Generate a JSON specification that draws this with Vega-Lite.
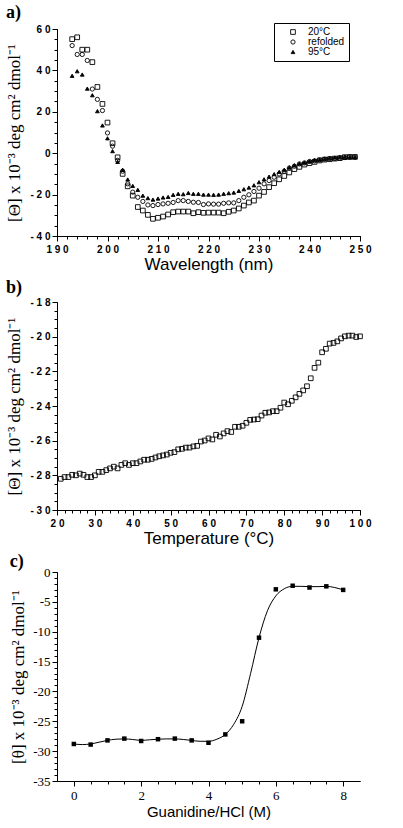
{
  "$schema": "https://vega.github.io/schema/vega-lite/v6.json",
  "padding": {"left": 5, "top": 4, "right": 5, "bottom": 2},
  "background": "white",
  "spacing": 7,
  "config": {
    "view": {"stroke": null},
    "axis": {"grid": false, "domainColor": "black", "tickColor": "black", "labelColor": "black", "titleColor": "black", "labelFlush": false, "labelOverlap": false, "domainWidth": 1, "tickWidth": 1},
    "title": {"color": "black"}
  },
  "datasets": {
    "a": [
      {"wl":193,"v":55.1,"s":"20°C"},{"wl":194,"v":56,"s":"20°C"},{"wl":195,"v":50,"s":"20°C"},{"wl":196,"v":50,"s":"20°C"},{"wl":197,"v":44,"s":"20°C"},{"wl":198,"v":32,"s":"20°C"},{"wl":199,"v":23.8,"s":"20°C"},{"wl":200,"v":14.8,"s":"20°C"},{"wl":201,"v":4.8,"s":"20°C"},{"wl":202,"v":-2,"s":"20°C"},{"wl":203,"v":-10,"s":"20°C"},{"wl":204,"v":-16,"s":"20°C"},{"wl":205,"v":-20.5,"s":"20°C"},{"wl":206,"v":-26,"s":"20°C"},{"wl":207,"v":-27.7,"s":"20°C"},{"wl":208,"v":-29.8,"s":"20°C"},{"wl":209,"v":-31.7,"s":"20°C"},{"wl":210,"v":-31.2,"s":"20°C"},{"wl":211,"v":-30.6,"s":"20°C"},{"wl":212,"v":-29.6,"s":"20°C"},{"wl":213,"v":-28.5,"s":"20°C"},{"wl":214,"v":-28.2,"s":"20°C"},{"wl":215,"v":-28.2,"s":"20°C"},{"wl":216,"v":-28.2,"s":"20°C"},{"wl":217,"v":-29,"s":"20°C"},{"wl":218,"v":-28.5,"s":"20°C"},{"wl":219,"v":-28.8,"s":"20°C"},{"wl":220,"v":-28.7,"s":"20°C"},{"wl":221,"v":-28.7,"s":"20°C"},{"wl":222,"v":-28.7,"s":"20°C"},{"wl":223,"v":-29,"s":"20°C"},{"wl":224,"v":-28.3,"s":"20°C"},{"wl":225,"v":-27.7,"s":"20°C"},{"wl":226,"v":-26.7,"s":"20°C"},{"wl":227,"v":-25.3,"s":"20°C"},{"wl":228,"v":-23.8,"s":"20°C"},{"wl":229,"v":-22.9,"s":"20°C"},{"wl":230,"v":-20.5,"s":"20°C"},{"wl":231,"v":-18.7,"s":"20°C"},{"wl":232,"v":-16.4,"s":"20°C"},{"wl":233,"v":-14.5,"s":"20°C"},{"wl":234,"v":-12.6,"s":"20°C"},{"wl":235,"v":-11,"s":"20°C"},{"wl":236,"v":-9.3,"s":"20°C"},{"wl":237,"v":-7.7,"s":"20°C"},{"wl":238,"v":-6.6,"s":"20°C"},{"wl":239,"v":-5.5,"s":"20°C"},{"wl":240,"v":-4.8,"s":"20°C"},{"wl":241,"v":-4.2,"s":"20°C"},{"wl":242,"v":-3.5,"s":"20°C"},{"wl":243,"v":-3.1,"s":"20°C"},{"wl":244,"v":-2.9,"s":"20°C"},{"wl":245,"v":-2.6,"s":"20°C"},{"wl":246,"v":-2.4,"s":"20°C"},{"wl":247,"v":-1.9,"s":"20°C"},{"wl":248,"v":-1.8,"s":"20°C"},{"wl":249,"v":-1.8,"s":"20°C"},
      {"wl":193,"v":52,"s":"refolded"},{"wl":194,"v":47.7,"s":"refolded"},{"wl":195,"v":47.7,"s":"refolded"},{"wl":196,"v":44.8,"s":"refolded"},{"wl":197,"v":31,"s":"refolded"},{"wl":198,"v":26,"s":"refolded"},{"wl":199,"v":20.6,"s":"refolded"},{"wl":200,"v":9.8,"s":"refolded"},{"wl":201,"v":3.4,"s":"refolded"},{"wl":202,"v":-3.5,"s":"refolded"},{"wl":203,"v":-8.7,"s":"refolded"},{"wl":204,"v":-14.8,"s":"refolded"},{"wl":205,"v":-18.8,"s":"refolded"},{"wl":206,"v":-21.3,"s":"refolded"},{"wl":207,"v":-23.3,"s":"refolded"},{"wl":208,"v":-25,"s":"refolded"},{"wl":209,"v":-25.3,"s":"refolded"},{"wl":210,"v":-24.8,"s":"refolded"},{"wl":211,"v":-24.5,"s":"refolded"},{"wl":212,"v":-24.2,"s":"refolded"},{"wl":213,"v":-23.8,"s":"refolded"},{"wl":214,"v":-22.9,"s":"refolded"},{"wl":215,"v":-22.9,"s":"refolded"},{"wl":216,"v":-23.3,"s":"refolded"},{"wl":217,"v":-23.7,"s":"refolded"},{"wl":218,"v":-23.8,"s":"refolded"},{"wl":219,"v":-24.8,"s":"refolded"},{"wl":220,"v":-24.5,"s":"refolded"},{"wl":221,"v":-24.6,"s":"refolded"},{"wl":222,"v":-24.6,"s":"refolded"},{"wl":223,"v":-24.2,"s":"refolded"},{"wl":224,"v":-24,"s":"refolded"},{"wl":225,"v":-24,"s":"refolded"},{"wl":226,"v":-22.9,"s":"refolded"},{"wl":227,"v":-21.3,"s":"refolded"},{"wl":228,"v":-20.1,"s":"refolded"},{"wl":229,"v":-18.5,"s":"refolded"},{"wl":230,"v":-16.9,"s":"refolded"},{"wl":231,"v":-14.8,"s":"refolded"},{"wl":232,"v":-13.2,"s":"refolded"},{"wl":233,"v":-11.6,"s":"refolded"},{"wl":234,"v":-10,"s":"refolded"},{"wl":235,"v":-8.7,"s":"refolded"},{"wl":236,"v":-7.2,"s":"refolded"},{"wl":237,"v":-6.3,"s":"refolded"},{"wl":238,"v":-5.2,"s":"refolded"},{"wl":239,"v":-4.7,"s":"refolded"},{"wl":240,"v":-4,"s":"refolded"},{"wl":241,"v":-3.7,"s":"refolded"},{"wl":242,"v":-3.2,"s":"refolded"},{"wl":243,"v":-2.9,"s":"refolded"},{"wl":244,"v":-2.6,"s":"refolded"},{"wl":245,"v":-2.6,"s":"refolded"},{"wl":246,"v":-2.3,"s":"refolded"},{"wl":247,"v":-2.1,"s":"refolded"},{"wl":248,"v":-1.9,"s":"refolded"},{"wl":249,"v":-1.9,"s":"refolded"},
      {"wl":193,"v":37.4,"s":"95°C"},{"wl":194,"v":39.6,"s":"95°C"},{"wl":195,"v":38,"s":"95°C"},{"wl":196,"v":31.2,"s":"95°C"},{"wl":197,"v":28,"s":"95°C"},{"wl":198,"v":20.3,"s":"95°C"},{"wl":199,"v":13.4,"s":"95°C"},{"wl":200,"v":7.2,"s":"95°C"},{"wl":201,"v":1,"s":"95°C"},{"wl":202,"v":-4.2,"s":"95°C"},{"wl":203,"v":-8,"s":"95°C"},{"wl":204,"v":-12.7,"s":"95°C"},{"wl":205,"v":-15.8,"s":"95°C"},{"wl":206,"v":-17.7,"s":"95°C"},{"wl":207,"v":-20.5,"s":"95°C"},{"wl":208,"v":-21.7,"s":"95°C"},{"wl":209,"v":-22.4,"s":"95°C"},{"wl":210,"v":-21.9,"s":"95°C"},{"wl":211,"v":-21.4,"s":"95°C"},{"wl":212,"v":-21.1,"s":"95°C"},{"wl":213,"v":-20.1,"s":"95°C"},{"wl":214,"v":-19.6,"s":"95°C"},{"wl":215,"v":-19.8,"s":"95°C"},{"wl":216,"v":-19.2,"s":"95°C"},{"wl":217,"v":-19.6,"s":"95°C"},{"wl":218,"v":-19.6,"s":"95°C"},{"wl":219,"v":-20,"s":"95°C"},{"wl":220,"v":-20,"s":"95°C"},{"wl":221,"v":-20.1,"s":"95°C"},{"wl":222,"v":-20,"s":"95°C"},{"wl":223,"v":-19.6,"s":"95°C"},{"wl":224,"v":-19.3,"s":"95°C"},{"wl":225,"v":-19,"s":"95°C"},{"wl":226,"v":-18.2,"s":"95°C"},{"wl":227,"v":-17.4,"s":"95°C"},{"wl":228,"v":-16.6,"s":"95°C"},{"wl":229,"v":-15.5,"s":"95°C"},{"wl":230,"v":-14,"s":"95°C"},{"wl":231,"v":-12.6,"s":"95°C"},{"wl":232,"v":-11.3,"s":"95°C"},{"wl":233,"v":-10.1,"s":"95°C"},{"wl":234,"v":-9,"s":"95°C"},{"wl":235,"v":-8,"s":"95°C"},{"wl":236,"v":-6.8,"s":"95°C"},{"wl":237,"v":-5.8,"s":"95°C"},{"wl":238,"v":-5,"s":"95°C"},{"wl":239,"v":-4.5,"s":"95°C"},{"wl":240,"v":-3.9,"s":"95°C"},{"wl":241,"v":-3.4,"s":"95°C"},{"wl":242,"v":-3.1,"s":"95°C"},{"wl":243,"v":-2.7,"s":"95°C"},{"wl":244,"v":-2.4,"s":"95°C"},{"wl":245,"v":-2.1,"s":"95°C"},{"wl":246,"v":-1.9,"s":"95°C"},{"wl":247,"v":-1.8,"s":"95°C"},{"wl":248,"v":-1.8,"s":"95°C"},{"wl":249,"v":-1.8,"s":"95°C"}
    ],
    "b": [
      {"t":21,"v":-28.2},{"t":22,"v":-28.1},{"t":23,"v":-28.1},{"t":24,"v":-27.97},{"t":25,"v":-28.0},{"t":26,"v":-27.9},{"t":27,"v":-27.97},{"t":28,"v":-28.1},{"t":29,"v":-28.1},{"t":30,"v":-28.0},
      {"t":31,"v":-27.8},{"t":32,"v":-27.8},{"t":33,"v":-27.7},{"t":34,"v":-27.6},{"t":35,"v":-27.5},{"t":36,"v":-27.6},{"t":37,"v":-27.4},{"t":38,"v":-27.3},{"t":39,"v":-27.4},{"t":40,"v":-27.3},
      {"t":41,"v":-27.3},{"t":42,"v":-27.2},{"t":43,"v":-27.1},{"t":44,"v":-27.1},{"t":45,"v":-27.05},{"t":46,"v":-26.97},{"t":47,"v":-26.9},{"t":48,"v":-26.85},{"t":49,"v":-26.8},{"t":50,"v":-26.7},
      {"t":51,"v":-26.66},{"t":52,"v":-26.5},{"t":53,"v":-26.47},{"t":54,"v":-26.4},{"t":55,"v":-26.4},{"t":56,"v":-26.33},{"t":57,"v":-26.3},{"t":58,"v":-26.05},{"t":59,"v":-25.99},{"t":60,"v":-25.87},
      {"t":61,"v":-25.93},{"t":62,"v":-25.66},{"t":63,"v":-25.76},{"t":64,"v":-25.58},{"t":65,"v":-25.45},{"t":66,"v":-25.5},{"t":67,"v":-25.2},{"t":68,"v":-25.2},{"t":69,"v":-25.14},{"t":70,"v":-24.97},
      {"t":71,"v":-24.8},{"t":72,"v":-24.78},{"t":73,"v":-24.76},{"t":74,"v":-24.55},{"t":75,"v":-24.39},{"t":76,"v":-24.37},{"t":77,"v":-24.3},{"t":78,"v":-24.3},{"t":79,"v":-24.1},{"t":80,"v":-23.8},
      {"t":81,"v":-23.9},{"t":82,"v":-23.7},{"t":83,"v":-23.5},{"t":84,"v":-23.3},{"t":85,"v":-23.1},{"t":86,"v":-22.86},{"t":87,"v":-22.4},{"t":88,"v":-21.8},{"t":89,"v":-21.5},{"t":90,"v":-20.9},
      {"t":91,"v":-20.7},{"t":92,"v":-20.4},{"t":93,"v":-20.36},{"t":94,"v":-20.27},{"t":95,"v":-20.1},{"t":96,"v":-19.98},{"t":97,"v":-19.94},{"t":98,"v":-19.94},{"t":99,"v":-20.02},{"t":100,"v":-19.98}
    ],
    "c": [
      {"g":0,"v":-28.8},{"g":0.5,"v":-28.9},{"g":1,"v":-28.2},{"g":1.5,"v":-27.9},{"g":2,"v":-28.3},{"g":2.5,"v":-28.0},{"g":3,"v":-27.9},{"g":3.5,"v":-28.2},{"g":4,"v":-28.6},{"g":4.5,"v":-27.2},{"g":5,"v":-25.0},{"g":5.5,"v":-11.0},{"g":6,"v":-2.9},{"g":6.5,"v":-2.3},{"g":7,"v":-2.6},{"g":7.5,"v":-2.4},{"g":8,"v":-3.0}
    ],
    "cfit": [
      {"g":0,"v":-28.8},{"g":0.25,"v":-28.9},{"g":0.5,"v":-28.8},{"g":0.75,"v":-28.5},{"g":1,"v":-28.2},{"g":1.25,"v":-28.0},{"g":1.5,"v":-27.95},{"g":1.75,"v":-28.05},{"g":2,"v":-28.2},{"g":2.25,"v":-28.1},{"g":2.5,"v":-28.0},{"g":2.75,"v":-27.95},{"g":3,"v":-27.95},{"g":3.25,"v":-28.05},{"g":3.5,"v":-28.2},{"g":3.75,"v":-28.35},{"g":4,"v":-28.35},{"g":4.25,"v":-28.0},{"g":4.5,"v":-27.2},{"g":4.75,"v":-25.5},{"g":5,"v":-22.5},{"g":5.25,"v":-17},{"g":5.5,"v":-11},{"g":5.75,"v":-6.5},{"g":6,"v":-4},{"g":6.25,"v":-2.8},{"g":6.5,"v":-2.4},{"g":6.75,"v":-2.4},{"g":7,"v":-2.45},{"g":7.25,"v":-2.45},{"g":7.5,"v":-2.4},{"g":7.75,"v":-2.6},{"g":8,"v":-3.0}
    ]
  },
  "vconcat": [
    {
      "width": 303, "height": 207,
      "title": {"text": "a)", "anchor": "start", "frame": "bounds", "font": "Liberation Serif", "fontSize": 18, "fontWeight": "bold", "offset": 2},
      "data": {"name": "a"},
      "resolve": {"axis": {"x": "independent", "y": "independent"}},
      "layer": [
        {
          "mark": {"type": "point", "stroke": "black", "strokeWidth": 0.9, "opacity": 1},
          "encoding": {
            "x": {"field": "wl", "type": "quantitative", "scale": {"domain": [190, 250], "nice": false, "zero": false},
              "axis": {"orient": "bottom", "title": "Wavelength (nm)", "titleFont": "Liberation Sans", "titleFontSize": 17, "titleFontWeight": "normal", "titlePadding": 2,
                "values": [190, 200, 210, 220, 230, 240, 250],
                "labelExpr": "datum.value == 190 ? '1 9 0' : '2 ' + ((datum.value - 200) / 10) + ' 0'",
                "labelFont": "Liberation Sans", "labelFontSize": 10, "labelFontWeight": "bold", "labelPadding": 3, "tickSize": 5}},
            "y": {"field": "v", "type": "quantitative", "scale": {"domain": [-40, 60], "nice": false, "zero": false},
              "axis": {"orient": "left", "title": "[Θ] x 10⁻³ deg cm² dmol⁻¹", "titleFont": "Liberation Serif", "titleFontSize": 17, "titleFontWeight": "normal", "titlePadding": 6,
                "values": [-40, -20, 0, 20, 40, 60],
                "labelExpr": "datum.value == 0 ? '0' : (datum.value < 0 ? '- ' : '') + floor(abs(datum.value) / 10) + ' ' + (abs(datum.value) % 10)",
                "labelFont": "Liberation Sans", "labelFontSize": 10, "labelFontWeight": "bold", "labelPadding": 2, "tickSize": 5}},
            "shape": {"field": "s", "type": "nominal", "scale": {"domain": ["20°C", "refolded", "95°C"], "range": ["square", "circle", "triangle-up"]},
              "legend": {"title": null, "orient": "none", "legendX": 217, "legendY": -6, "strokeColor": "black", "fillColor": "white", "padding": 4, "rowPadding": 0, "labelFont": "Liberation Sans", "labelFontSize": 10, "labelColor": "black", "symbolStrokeColor": "black", "symbolStrokeWidth": 0.9, "symbolOffset": 10, "labelOffset": 10,
                "encode": {"symbols": {"update": {"stroke": {"value": "black"}, "strokeWidth": {"value": 0.9}}}, "legend": {"update": {"strokeWidth": {"value": 1.5}}}}}},
            "fill": {"field": "s", "type": "nominal", "scale": {"domain": ["20°C", "refolded", "95°C"], "range": ["transparent", "transparent", "black"]}, "legend": {"title": null}},
            "size": {"field": "s", "type": "nominal", "scale": {"domain": ["20°C", "refolded", "95°C"], "range": [22, 14, 11]}, "legend": {"title": null}}
          }
        },
        {
          "mark": {"type": "point", "opacity": 0},
          "encoding": {
            "x": {"field": "wl", "type": "quantitative", "scale": {"domain": [190, 250], "nice": false, "zero": false},
              "axis": {"orient": "bottom", "title": null, "labels": false, "tickSize": 3,
                "values": [190,192,194,196,198,200,202,204,206,208,210,212,214,216,218,220,222,224,226,228,230,232,234,236,238,240,242,244,246,248,250]}},
            "y": {"field": "v", "type": "quantitative", "scale": {"domain": [-40, 60], "nice": false, "zero": false},
              "axis": {"orient": "left", "title": null, "labels": false, "tickSize": 3,
                "values": [-40,-35,-30,-25,-20,-15,-10,-5,0,5,10,15,20,25,30,35,40,45,50,55,60]}}
          }
        }
      ]
    },
    {
      "width": 303, "height": 208,
      "title": {"text": "b)", "anchor": "start", "frame": "bounds", "font": "Liberation Serif", "fontSize": 18, "fontWeight": "bold", "offset": 0},
      "data": {"name": "b"},
      "resolve": {"axis": {"x": "independent", "y": "independent"}},
      "layer": [
        {
          "mark": {"type": "point", "shape": "square", "stroke": "black", "strokeWidth": 0.9, "fill": "transparent", "opacity": 1, "size": 22},
          "encoding": {
            "x": {"field": "t", "type": "quantitative", "scale": {"domain": [20, 100], "nice": false, "zero": false},
              "axis": {"orient": "bottom", "title": "Temperature  (°C)", "titleFont": "Liberation Sans", "titleFontSize": 17, "titleFontWeight": "normal", "titlePadding": 2,
                "values": [20, 30, 40, 50, 60, 70, 80, 90, 100],
                "labelExpr": "datum.value == 100 ? '1 0 0' : (datum.value / 10) + ' 0'",
                "labelFont": "Liberation Sans", "labelFontSize": 10, "labelFontWeight": "bold", "labelPadding": 3, "tickSize": 5}},
            "y": {"field": "v", "type": "quantitative", "scale": {"domain": [-30, -18], "nice": false, "zero": false},
              "axis": {"orient": "left", "title": "[Θ] x 10⁻³ deg cm² dmol⁻¹", "titleFont": "Liberation Serif", "titleFontSize": 17, "titleFontWeight": "normal", "titlePadding": 6,
                "values": [-30, -28, -26, -24, -22, -20, -18],
                "labelExpr": "'- ' + floor(abs(datum.value) / 10) + ' ' + (abs(datum.value) % 10)",
                "labelFont": "Liberation Sans", "labelFontSize": 10, "labelFontWeight": "bold", "labelPadding": 2, "tickSize": 5}}
          }
        },
        {
          "mark": {"type": "point", "opacity": 0},
          "encoding": {
            "x": {"field": "t", "type": "quantitative", "scale": {"domain": [20, 100], "nice": false, "zero": false},
              "axis": {"orient": "bottom", "title": null, "labels": false, "tickSize": 3,
                "values": [20,22,24,26,28,30,32,34,36,38,40,42,44,46,48,50,52,54,56,58,60,62,64,66,68,70,72,74,76,78,80,82,84,86,88,90,92,94,96,98,100]}},
            "y": {"field": "v", "type": "quantitative", "scale": {"domain": [-30, -18], "nice": false, "zero": false},
              "axis": {"orient": "left", "title": null, "labels": false, "tickSize": 3,
                "values": [-30,-29.5,-29,-28.5,-28,-27.5,-27,-26.5,-26,-25.5,-25,-24.5,-24,-23.5,-23,-22.5,-22,-21.5,-21,-20.5,-20,-19.5,-19,-18.5,-18]}}
          }
        }
      ]
    },
    {
      "width": 303, "height": 209,
      "title": {"text": "c)", "anchor": "start", "frame": "bounds", "font": "Liberation Serif", "fontSize": 18, "fontWeight": "bold", "offset": -5},
      "resolve": {"axis": {"x": "independent", "y": "independent"}},
      "layer": [
        {
          "data": {"name": "cfit"},
          "mark": {"type": "line", "interpolate": "monotone", "color": "black", "strokeWidth": 1},
          "encoding": {
            "x": {"field": "g", "type": "quantitative", "scale": {"domain": [-0.5, 8.5], "nice": false, "zero": false},
              "axis": {"orient": "bottom", "title": null, "labels": false, "tickSize": 3,
                "values": [0,0.5,1,1.5,2,2.5,3,3.5,4,4.5,5,5.5,6,6.5,7,7.5,8]}},
            "y": {"field": "v", "type": "quantitative", "scale": {"domain": [-35, 0], "nice": false, "zero": false},
              "axis": {"orient": "left", "title": null, "labels": false, "tickSize": 3,
                "values": [-35,-34,-33,-32,-31,-30,-29,-28,-27,-26,-25,-24,-23,-22,-21,-20,-19,-18,-17,-16,-15,-14,-13,-12,-11,-10,-9,-8,-7,-6,-5,-4,-3,-2,-1,0]}}
          }
        },
        {
          "data": {"name": "c"},
          "mark": {"type": "point", "shape": "square", "filled": true, "color": "black", "opacity": 1, "size": 20},
          "encoding": {
            "x": {"field": "g", "type": "quantitative", "scale": {"domain": [-0.5, 8.5], "nice": false, "zero": false},
              "axis": {"orient": "bottom", "title": "Guanidine/HCl (M)", "titleFont": "Liberation Sans", "titleFontSize": 15, "titleFontWeight": "normal", "titlePadding": 2,
                "values": [0, 2, 4, 6, 8],
                "labelExpr": "'' + datum.value",
                "labelFont": "Liberation Serif", "labelFontSize": 13, "labelPadding": 3, "tickSize": 5}},
            "y": {"field": "v", "type": "quantitative", "scale": {"domain": [-35, 0], "nice": false, "zero": false},
              "axis": {"orient": "left", "title": "[θ] x 10⁻³ deg cm² dmol⁻¹", "titleFont": "Liberation Serif", "titleFontSize": 17, "titleFontWeight": "normal", "titlePadding": 5,
                "values": [-35, -30, -25, -20, -15, -10, -5, 0],
                "labelExpr": "'' + datum.value",
                "labelFont": "Liberation Serif", "labelFontSize": 13, "labelPadding": 2, "tickSize": 5}}
          }
        }
      ]
    }
  ]
}
